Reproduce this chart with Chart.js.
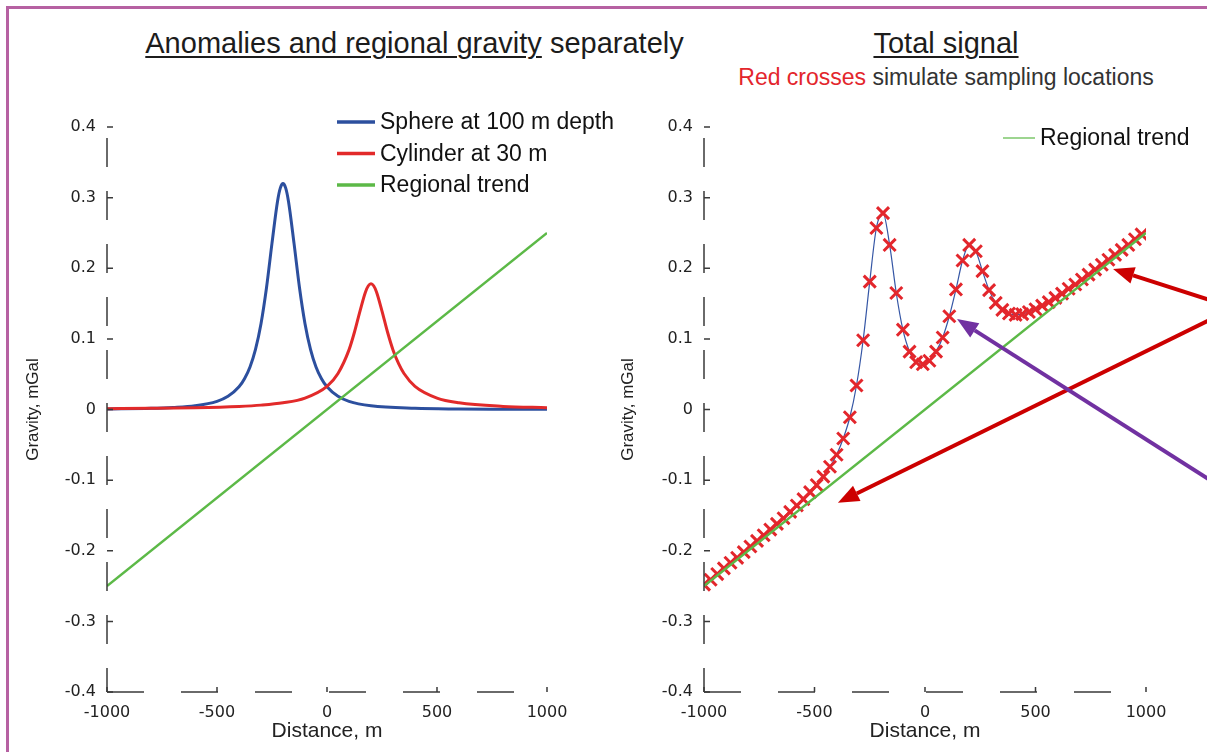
<!DOCTYPE html>
<html>
<head>
<meta charset="utf-8">
<title>Gravity anomalies</title>
<script src="https://cdn.jsdelivr.net/npm/chart.js@4.4.1/dist/chart.umd.min.js"></script>
<style>
  html, body { margin: 0; padding: 0; background: #fff; }
  body { position: relative; width: 1207px; height: 752px; overflow: hidden; font-family: 'Liberation Sans', Arial, sans-serif; }
  #frame { position: absolute; left: 6px; top: 6px; right: -10px; bottom: -10px; border-top: 3px solid #b661a2; border-left: 3px solid #b661a2; }
  .title { position: absolute; white-space: nowrap; text-align: center; color: #1c1c1c; }
  .title u { text-decoration-thickness: 1.5px; text-underline-offset: 3px; }
  #title1 { left: 0; width: 829px; top: 26px; font-size: 29px; line-height: 34px; }
  #title2 { left: 746px; width: 400px; top: 26px; font-size: 29px; line-height: 34px; }
  #subtitle { left: 696px; width: 500px; top: 63px; font-size: 23px; line-height: 28px; color: #333; }
  #subtitle span { color: #e3262c; }
  canvas { position: absolute; top: 0; }
  #leftChart { left: 0; }
  #rightChart { left: 600px; }
</style>
</head>
<body>
<div id="frame"></div>
<div class="title" id="title1"><u>Anomalies and regional gravity</u> separately</div>
<div class="title" id="title2"><u>Total signal</u></div>
<div class="title" id="subtitle"><span>Red crosses</span> simulate sampling locations</div>
<canvas id="leftChart" width="640" height="752"></canvas>
<canvas id="rightChart" width="607" height="752"></canvas>
<script>
// Tick labels
const distanceTicks = [-1000, -500, 0, 500, 1000];
const gravityTicks = [-0.4, -0.3, -0.2, -0.1, 0, 0.1, 0.2, 0.3, 0.4];

// Left panel: the two anomalies and the regional trend
const sphereX = [-1000, -800, -700, -600, -500, -450, -400, -375, -350, -325, -300, -275, -250, -225, -212,
    -200, -188, -175, -150, -125, -100, -75, -50, -25, 0, 50, 100, 200, 400, 600, 800, 1000];
const sphereY = [0.0007, 0.0016, 0.0028, 0.0052, 0.0115, 0.0186, 0.0321, 0.0436, 0.0603, 0.0852, 0.1215, 0.1724, 0.2355, 0.2946, 0.3138,
    0.32, 0.3138, 0.2946, 0.2355, 0.1724, 0.1215, 0.0852, 0.0603, 0.0436, 0.0321, 0.0186, 0.0115, 0.0052, 0.0016, 0.0007, 0.0004, 0.0002];

const cylinderX = [-1000, -800, -600, -400, -300, -200, -100, 0, 50, 100, 125, 150, 175, 188,
    200, 212, 225, 250, 275, 300, 325, 350, 400, 500, 600, 800, 1000];
const cylinderY = [0.0011, 0.0016, 0.0025, 0.0044, 0.0062, 0.0095, 0.0162, 0.0328, 0.0510, 0.0844, 0.1097, 0.1394, 0.1665, 0.1752,
    0.178, 0.1752, 0.1665, 0.1394, 0.1097, 0.0844, 0.0652, 0.0510, 0.0328, 0.0162, 0.0095, 0.0044, 0.0025];

const regionalX = [-1000, 1000];
const regionalY = [-0.25, 0.25];

// Right panel: total signal at the sampling locations
const sampleX = [-1000, -970, -940, -910, -880, -850, -820, -790, -760, -730, -700, -670, -640, -610, -580, -550, -520,
    -490, -460, -430, -400, -370, -340, -310, -280, -250, -220, -190, -160, -130, -100, -70, -40, -10,
    20, 50, 80, 110, 140, 170, 200, 230, 260, 290, 320, 350, 380, 410, 440, 470, 500,
    530, 560, 590, 620, 650, 680, 710, 740, 770, 800, 830, 860, 890, 920, 950, 980];
const totalY = [-0.248, -0.241, -0.233, -0.225, -0.217, -0.210, -0.202, -0.194, -0.186, -0.178, -0.170, -0.162, -0.154, -0.145, -0.136, -0.127, -0.117,
    -0.107, -0.095, -0.081, -0.064, -0.041, -0.011, 0.034, 0.098, 0.181, 0.257, 0.278, 0.233, 0.165, 0.113, 0.082, 0.067, 0.064,
    0.069, 0.082, 0.102, 0.132, 0.170, 0.211, 0.233, 0.224, 0.196, 0.169, 0.151, 0.141, 0.136, 0.134, 0.135, 0.138, 0.142,
    0.147, 0.152, 0.158, 0.164, 0.171, 0.177, 0.184, 0.191, 0.198, 0.205, 0.212, 0.219, 0.226, 0.233, 0.241, 0.248];

// Annotation arrows on the right panel (data units)
const arrowFromX = [1290, 1290, 1290];
const arrowFromY = [0.155, 0.127, -0.100];
const arrowToX = [851, -394, 145];
const arrowToY = [0.199, -0.132, 0.128];
const arrowColors = ['#cc0000', '#cc0000', '#7131a1'];

function pts(xs, ys) {
    return xs.map((x, i) => ({x: x, y: ys[i]}));
}

// broken axis lines with inward ticks, like the old matlab export
const oldAxes = {
    id: 'oldAxes',
    afterDraw(chart) {
        const {ctx, chartArea: a, scales} = chart;
        ctx.save();
        ctx.strokeStyle = '#3a3a3a';
        ctx.lineWidth = 1.5;
        ctx.setLineDash([37, 37]);
        ctx.beginPath();
        ctx.moveTo(a.left, a.bottom);
        ctx.lineTo(a.right, a.bottom);
        ctx.stroke();
        ctx.setLineDash([29, 24]);
        ctx.lineDashOffset = 42;
        ctx.beginPath();
        ctx.moveTo(a.left, a.top);
        ctx.lineTo(a.left, a.bottom);
        ctx.stroke();
        ctx.setLineDash([]);
        ctx.lineDashOffset = 0;
        ctx.beginPath();
        scales.x.ticks.forEach(t => {
            const px = scales.x.getPixelForValue(t.value);
            ctx.moveTo(px, a.bottom);
            ctx.lineTo(px, a.bottom - 5);
        });
        scales.y.ticks.forEach(t => {
            const py = scales.y.getPixelForValue(t.value);
            ctx.moveTo(a.left, py);
            ctx.lineTo(a.left + 6, py);
        });
        ctx.stroke();
        ctx.restore();
    }
};

const panelLegend = {
    id: 'panelLegend',
    afterDraw(chart, args, opts) {
        const ctx = chart.ctx;
        ctx.save();
        ctx.font = '23px "Liberation Sans"';
        ctx.textBaseline = 'middle';
        opts.items.forEach((idx, i) => {
            const ds = chart.data.datasets[idx];
            const yy = opts.y + i * opts.gap;
            ctx.strokeStyle = ds.borderColor;
            ctx.lineWidth = opts.width;
            ctx.beginPath();
            ctx.moveTo(opts.x, yy);
            ctx.lineTo(opts.x + opts.len, yy);
            ctx.stroke();
            ctx.fillStyle = '#111';
            ctx.fillText(ds.label, opts.x + opts.len + 5, yy + 1);
        });
        ctx.restore();
    }
};

const arrows = {
    id: 'arrows',
    afterDraw(chart) {
        const {ctx, scales: {x, y}} = chart;
        ctx.save();
        arrowToX.forEach((tx, i) => {
            const x1 = x.getPixelForValue(arrowFromX[i]);
            const y1 = y.getPixelForValue(arrowFromY[i]);
            const x2 = x.getPixelForValue(tx);
            const y2 = y.getPixelForValue(arrowToY[i]);
            const ang = Math.atan2(y2 - y1, x2 - x1);
            const head = 21, half = 8.5;
            const bx = x2 - head * Math.cos(ang);
            const by = y2 - head * Math.sin(ang);
            ctx.strokeStyle = arrowColors[i];
            ctx.fillStyle = arrowColors[i];
            ctx.lineWidth = 4;
            ctx.beginPath();
            ctx.moveTo(x1, y1);
            ctx.lineTo(bx, by);
            ctx.stroke();
            ctx.beginPath();
            ctx.moveTo(x2, y2);
            ctx.lineTo(bx + half * Math.sin(ang), by - half * Math.cos(ang));
            ctx.lineTo(bx - half * Math.sin(ang), by + half * Math.cos(ang));
            ctx.closePath();
            ctx.fill();
        });
        ctx.restore();
    }
};

function makeScales(yWidth, yTitlePad) {
    return {
        x: {
            type: 'linear',
            min: -1000,
            max: 1000,
            afterBuildTicks: s => { s.ticks = distanceTicks.map(v => ({value: v})); },
            afterFit: s => { s.height = 60; },
            grid: {display: false, drawTicks: false},
            border: {display: false},
            ticks: {
                padding: 11, color: '#222', autoSkip: false, maxRotation: 0,
                font: {family: 'DejaVu Sans', size: 16},
                callback: v => String(v)
            },
            title: {
                display: true, text: 'Distance, m', color: '#222',
                font: {family: 'Liberation Sans', size: 21},
                padding: {top: 0, bottom: 8}
            }
        },
        y: {
            type: 'linear',
            min: -0.4,
            max: 0.4,
            afterBuildTicks: s => { s.ticks = gravityTicks.map(v => ({value: v})); },
            afterFit: s => { s.width = yWidth; },
            grid: {display: false, drawTicks: false},
            border: {display: false},
            ticks: {
                padding: 11, color: '#222', autoSkip: false,
                font: {family: 'DejaVu Sans', size: 16},
                callback: v => String(v)
            },
            title: {
                display: true, text: 'Gravity, mGal', color: '#222',
                font: {family: 'Liberation Sans', size: 17},
                padding: {top: yTitlePad, bottom: 0}
            }
        }
    };
}

const common = {
    responsive: false,
    animation: false,
    devicePixelRatio: 1,
    elements: {
        point: {radius: 0},
        line: {cubicInterpolationMode: 'monotone', fill: false}
    }
};

// Anomalies and regional gravity separately
new Chart(document.getElementById('leftChart'), {
    type: 'line',
    data: {
        datasets: [{
            label: 'Sphere at 100 m depth',
            data: pts(sphereX, sphereY),
            borderColor: '#2c4f9e',
            borderWidth: 3,
            order: 2
        }, {
            label: 'Cylinder at 30 m',
            data: pts(cylinderX, cylinderY),
            borderColor: '#e22a2a',
            borderWidth: 3,
            order: 1
        }, {
            label: 'Regional trend',
            data: pts(regionalX, regionalY),
            borderColor: '#5cb947',
            borderWidth: 2.5,
            order: 0
        }]
    },
    options: Object.assign({}, common, {
        layout: {padding: {left: 0, top: 127, right: 93, bottom: 0}},
        scales: makeScales(107, 23),
        plugins: {
            legend: {display: false},
            tooltip: {enabled: false},
            panelLegend: {items: [0, 1, 2], x: 337, y: 122, gap: 31.5, len: 38, width: 3.5}
        }
    }),
    plugins: [oldAxes, panelLegend]
});

// Total signal
new Chart(document.getElementById('rightChart'), {
    type: 'line',
    data: {
        datasets: [{
            label: 'Regional trend',
            data: pts(regionalX, regionalY),
            borderColor: '#5cb947',
            borderWidth: 2.5,
            order: 0
        }, {
            label: 'Samples',
            data: pts(sampleX, totalY),
            showLine: false,
            pointStyle: 'crossRot',
            pointRadius: 8.5,
            pointBorderWidth: 3,
            pointBorderColor: '#e3262c',
            borderColor: '#e3262c',
            order: 1
        }, {
            label: 'Total signal',
            data: pts(sampleX, totalY),
            borderColor: '#3556a5',
            borderWidth: 1.2,
            order: 2
        }]
    },
    options: Object.assign({}, common, {
        layout: {padding: {left: 0, top: 127, right: 61, bottom: 0}},
        scales: makeScales(104, 18),
        plugins: {
            legend: {display: false},
            tooltip: {enabled: false},
            panelLegend: {items: [0], x: 403, y: 138, gap: 0, len: 32, width: 1.2}
        }
    }),
    plugins: [oldAxes, panelLegend, arrows]
});
</script>
</body>
</html>
